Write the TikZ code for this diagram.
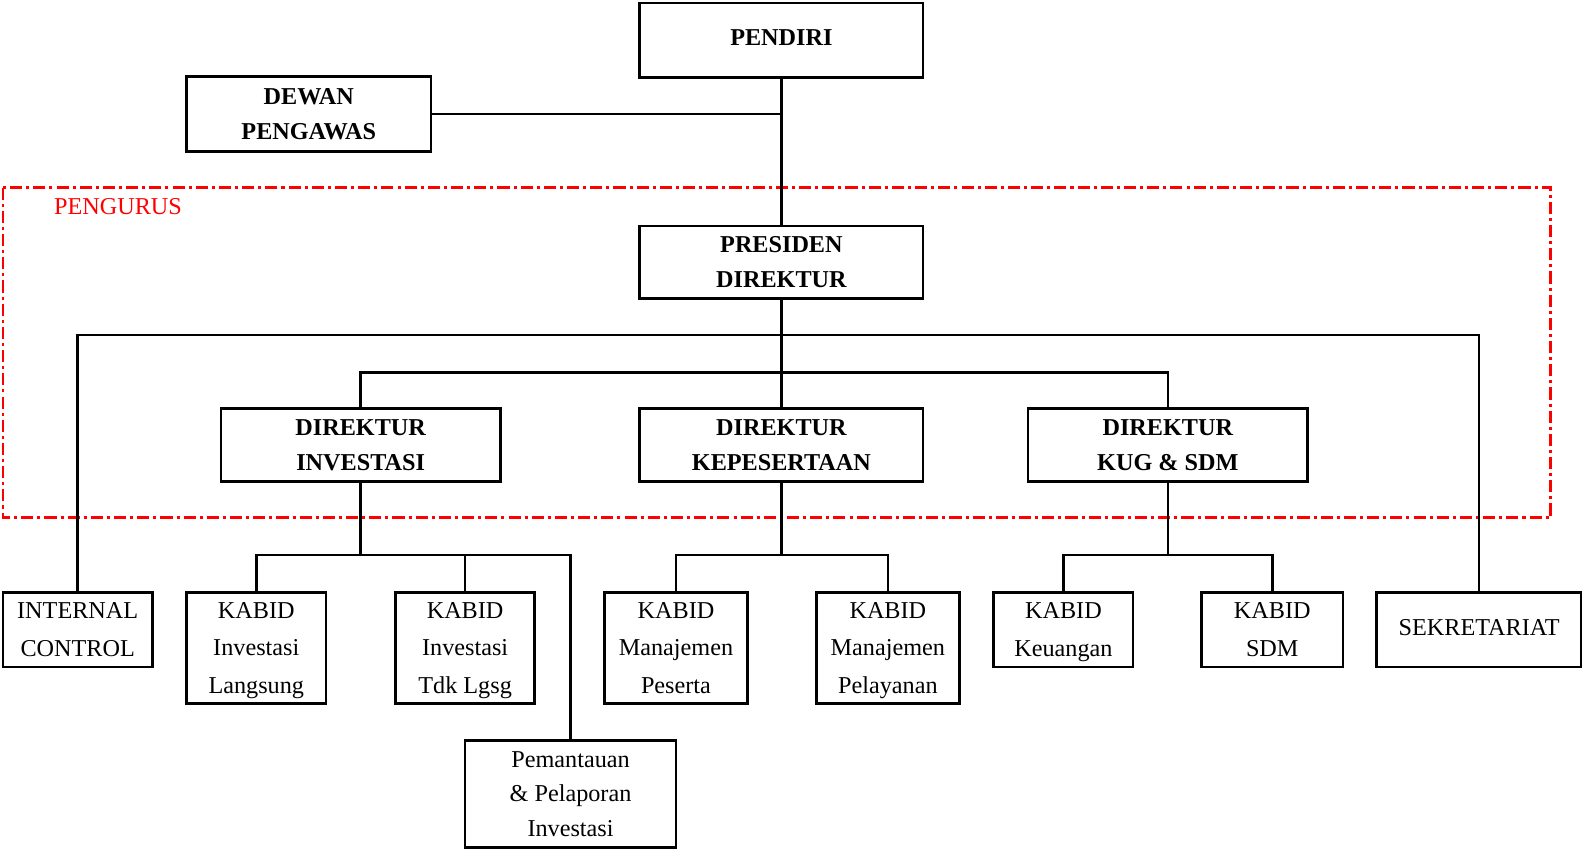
\documentclass[tikz,border=0pt]{standalone}
\usepackage{fontspec}
\setmainfont{Liberation Serif}
\usetikzlibrary{positioning}

\begin{document}
\begin{tikzpicture}[x=0.5pt,y=-0.5pt,line width=1.3pt,
  every node/.style={align=center,inner sep=0pt,font=\fontsize{12}{18.5}\selectfont},
  unit/.style={draw,rectangle,minimum width=#1},
  head/.style={unit=140.5pt,minimum height=36pt,font=\fontsize{12}{17.5}\selectfont\bfseries},
  kabid/.style={unit=69pt,minimum height=55pt,text depth=0pt},
  small/.style={unit=#1,minimum height=37pt,text depth=0pt},
  pengurus/.style={draw=red,line width=1.4pt,dash pattern=on 6pt off 2pt on 1.5pt off 2pt}]
  \useasboundingbox (0,0) rectangle (1568,842);
  \draw[pengurus] (3,186) rectangle (1537,513);
  \node[text=red] (lbl) at (117,205) {PENGURUS};
  \node[head,minimum height=37pt,text depth=3pt]  (pd)  at (774.5,40)  {PENDIRI};
  \node[head,unit=121pt,minimum height=37pt]  (dp)  at (306,113)  {DEWAN \\ PENGAWAS};
  \node[head]  (ps)  at (774.5,260)  {PRESIDEN \\ DIREKTUR};
  \node[head,unit=138.5pt]  (di)  at (357.5,441)  {DIREKTUR \\ INVESTASI};
  \node[head]  (dk)  at (774.5,441)  {DIREKTUR \\ KEPESERTAAN};
  \node[head,unit=138.5pt]  (ds)  at (1157.5,441)  {DIREKTUR \\ KUG \& SDM};
  \node[small=74pt]  (ic)  at (77,624)  {INTERNAL \\ CONTROL};
  \node[kabid]  (kil)  at (254,642)  {KABID \\ Investasi \\ Langsung};
  \node[kabid]  (ktl)  at (461,642)  {KABID \\ Investasi \\ Tdk Lgsg};
  \node[unit=104.5pt,minimum height=53pt,font=\fontsize{12}{17}\selectfont]  (pm)  at (565.5,787)  {Pemantauan \\ \& Pelaporan \\ Investasi};
  \node[kabid,unit=71pt]  (kmp)  at (670,642)  {KABID \\ Manajemen \\ Peserta};
  \node[kabid,unit=71pt]  (kml)  at (880,642)  {KABID \\ Manajemen \\ Pelayanan};
  \node[small=69pt]  (kk)  at (1054,624)  {KABID \\ Keuangan};
  \node[small=70pt]  (kd)  at (1261,624)  {KABID \\ SDM};
  \node[small=101.5pt,text depth=2pt]  (sk)  at (1466,624)  {SEKRETARIAT};
  \coordinate (j1) at (774.5,332);
  \coordinate (j2) at (774.5,369);
  \coordinate (j3) at (357.5,550);
  \coordinate (j4) at (774.5,550);
  \coordinate (j5) at (1157.5,550);
  \draw (pd) -- (ps);
  \draw (dp.east) -- (dp.east -| pd);
  \draw (ps) -- (dk);
  \draw (ic.north) |- (j1) -| (sk.north);
  \draw (di.north) |- (j2) -| (ds.north);
  \draw (di) -- (j3);
  \draw (kil.north) |- (j3) -| (pm.north);
  \draw (j3 -| ktl) -- (ktl.north);
  \draw (dk) -- (j4);
  \draw (kmp.north) |- (j4) -| (kml.north);
  \draw (ds) -- (j5);
  \draw (kk.north) |- (j5) -| (kd.north);
\end{tikzpicture}
\end{document}
